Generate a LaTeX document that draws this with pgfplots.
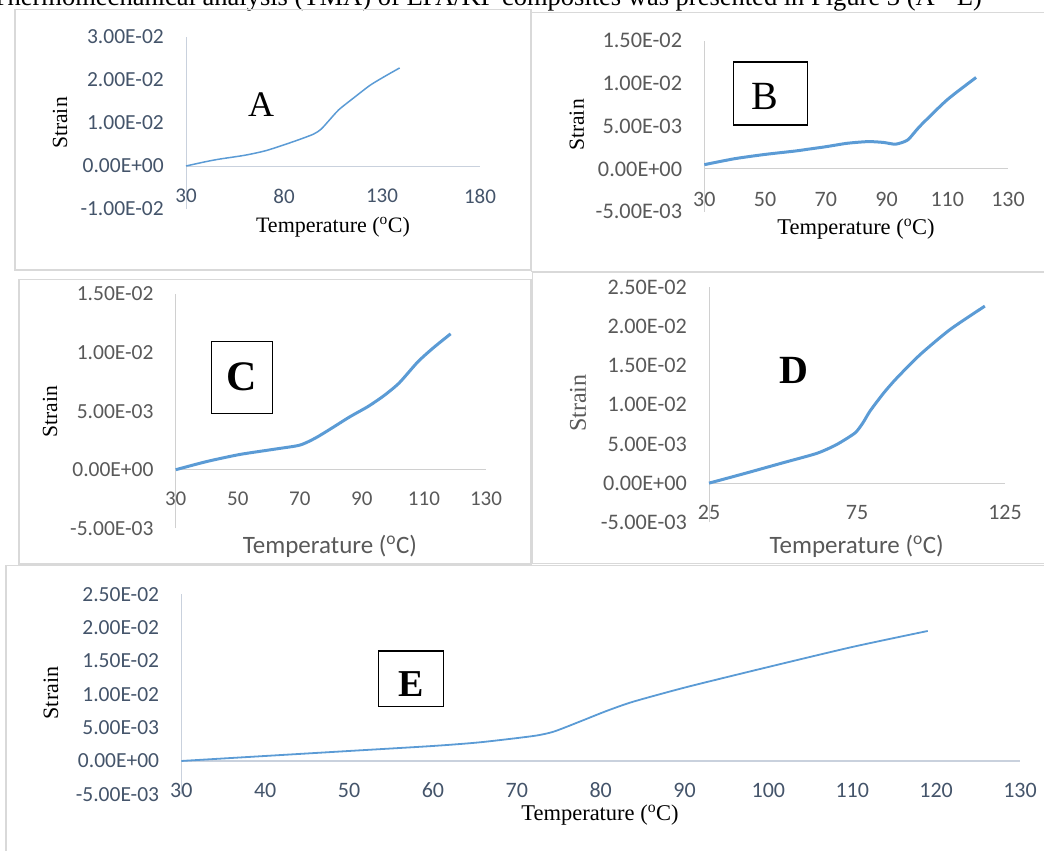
\documentclass[border=0pt]{standalone}
\usepackage{pgfplots}
\pgfplotsset{compat=1.18}
\usepackage{fontspec}
\setmainfont{Liberation Serif}
\newfontfamily\calibri{Carlito}
\definecolor{xblue}{HTML}{5B9BD5}
\definecolor{slate}{HTML}{44546A}
\definecolor{tgray}{HTML}{595959}
\definecolor{framec}{HTML}{D9D9D9}
\definecolor{alineA}{HTML}{C9D1DD}
\definecolor{alineB}{HTML}{D0D0D0}
\pgfplotsset{
  excel/.style={
    scale only axis, anchor=south west,
    axis x line=middle, axis y line=left,
    axis line style={-},
    hide obscured x ticks=false, hide obscured y ticks=false,
    major tick length=0pt, tick style={draw=none},
    clip=false, scaled y ticks=false, scaled x ticks=false,
    xticklabel style={anchor=center, inner sep=0pt, font=\fontsize{21}{21}\calibri},
    yticklabel style={anchor=east, inner sep=0pt, xshift=-22pt, font=\fontsize{21.5}{21.5}\calibri},
  }
}
\begin{document}
\begin{tikzpicture}
\useasboundingbox (0pt,0pt) rectangle (1044pt,-851pt);
\clip (0pt,0pt) rectangle (1044pt,-851pt);
% text line at top, cut off by the page edge as in the reference
\node[anchor=base east, inner sep=0pt, font=\fontsize{26.5}{26.5}\selectfont] at (982pt,-5.5pt) {Thermomechanical analysis (TMA) of EPA/KP composites was presented in Figure 3 (A - E)};
% frames
\draw[framec, line width=1.5pt] (15pt,-9.3pt) rectangle (531pt,-270pt);
\draw[framec, line width=1.5pt] (531.7pt,-12.7pt) rectangle (1060pt,-271.7pt);
\draw[framec, line width=1.5pt] (19pt,-279.3pt) rectangle (531pt,-564pt);
\draw[framec, line width=1.5pt] (532.3pt,-272.3pt) rectangle (1060pt,-563.3pt);
\draw[framec, line width=1.5pt] (6pt,-565.5pt) rectangle (1060pt,-870pt);

% ---------------- A ----------------
\begin{axis}[excel, at={(186pt,-209pt)}, width=294pt, height=172pt,
  xmin=30, xmax=180, ymin=-0.01, ymax=0.03,
  xtick={30,80,130,180}, xticklabels={30,80,130,180},
  ytick={-0.01,0,0.01,0.02,0.03},
  yticklabels={-1.00E-02,0.00E+00,1.00E-02,2.00E-02,3.00E-02},
  axis line style={draw=alineA, line width=1pt},
  xticklabel style={yshift=-30pt, text=slate}, yticklabel style={text=slate}]
\addplot[xblue, line width=1.5pt, smooth, tension=0.4] coordinates {
(30,0) (40,0.0010) (47,0.0016) (60,0.0025) (71,0.0036) (85,0.0057) (95,0.0074)
(99,0.0086) (103,0.0106) (108,0.0131) (116,0.0160) (124,0.0188) (132,0.0210) (139,0.0228)};
\end{axis}
\node[font=\fontsize{22}{22}\selectfont] at (333pt,-227pt) {Temperature (\textsuperscript{o}C)};
\node[rotate=90, font=\fontsize{21.6}{21.6}\selectfont] at (60pt,-123pt) {Strain};
\node[font=\fontsize{36}{36}\selectfont] at (261pt,-105pt) {A};

% ---------------- B ----------------
\begin{axis}[excel, at={(704.3pt,-211.7pt)}, width=303.7pt, height=171pt,
  xmin=30, xmax=130, ymin=-0.005, ymax=0.015,
  xtick={30,50,70,90,110,130}, xticklabels={30,50,70,90,110,130},
  ytick={-0.005,0,0.005,0.01,0.015},
  yticklabels={-5.00E-03,0.00E+00,5.00E-03,1.00E-02,1.50E-02},
  axis line style={draw=alineB, line width=1pt},
  xticklabel style={yshift=-30pt, text=tgray, font=\fontsize{22}{22}\calibri},
  yticklabel style={text=tgray, font=\fontsize{22.3}{22.3}\calibri}]
\addplot[xblue, line width=3pt, smooth, tension=0.4] coordinates {
(30,0.0005) (40,0.0012) (50,0.0017) (60,0.0021) (64,0.0023) (70,0.0026) (77,0.0030)
(84,0.0032) (89,0.0031) (93,0.0029) (97,0.0034) (101,0.0050) (110,0.0081) (119.5,0.0107)};
\end{axis}
\node[font=\fontsize{22.5}{22.5}\selectfont] at (856pt,-229pt) {Temperature (\textsuperscript{o}C)};
\node[rotate=90, font=\fontsize{21.6}{21.6}\selectfont] at (576.7pt,-125pt) {Strain};
\draw[black, line width=1.2pt] (733.3pt,-62pt) rectangle (807.3pt,-125pt);
\node[font=\fontsize{40}{40}\selectfont] at (765pt,-96.7pt) {B};

% ---------------- C ----------------
\begin{axis}[excel, at={(175.7pt,-528.3pt)}, width=310.3pt, height=234.3pt,
  xmin=30, xmax=130, ymin=-0.005, ymax=0.015,
  xtick={30,50,70,90,110,130}, xticklabels={30,50,70,90,110,130},
  ytick={-0.005,0,0.005,0.01,0.015},
  yticklabels={-5.00E-03,0.00E+00,5.00E-03,1.00E-02,1.50E-02},
  axis line style={draw=alineB, line width=1pt},
  xticklabel style={yshift=-29pt, text=tgray},
  yticklabel style={text=tgray}]
\addplot[xblue, line width=3pt, smooth, tension=0.4] coordinates {
(30,0) (40,0.0007) (50.6,0.0013) (62,0.00176) (70,0.0021) (75,0.0027) (80,0.0035)
(86,0.0045) (92,0.0054) (97,0.0063) (102,0.0074) (108,0.0092) (113,0.0104) (118.6,0.0116)};
\end{axis}
\node[text=tgray, font=\fontsize{25}{25}\calibri] at (330pt,-546.7pt) {Temperature (\textsuperscript{o}C)};
\node[rotate=90, font=\fontsize{21.6}{21.6}\selectfont] at (50pt,-411.7pt) {Strain};
\draw[black, line width=1.2pt] (211.7pt,-341.7pt) rectangle (272.3pt,-413.3pt);
\node[font=\fontsize{42}{42}\selectfont\bfseries] at (242pt,-376.5pt) {C};

% ---------------- D ----------------
\begin{axis}[excel, at={(709pt,-522.3pt)}, width=296pt, height=235pt,
  xmin=25, xmax=125, ymin=-0.005, ymax=0.025,
  xtick={25,75,125}, xticklabels={25,75,125},
  ytick={-0.005,0,0.005,0.01,0.015,0.02,0.025},
  yticklabels={-5.00E-03,0.00E+00,5.00E-03,1.00E-02,1.50E-02,2.00E-02,2.50E-02},
  axis line style={draw=alineB, line width=1pt},
  xticklabel style={yshift=-29pt, text=tgray, font=\fontsize{22}{22}\calibri},
  yticklabel style={text=tgray, font=\fontsize{22.2}{22.2}\calibri}]
\addplot[xblue, line width=3pt, smooth, tension=0.4] coordinates {
(25,0) (37.7,0.0013) (50,0.0026) (61.4,0.0038) (68,0.0049) (74.3,0.0064) (77,0.0077)
(79.4,0.0092) (84,0.0115) (88.4,0.0134) (96.3,0.0164) (106.4,0.0196) (118.2,0.0226)};
\end{axis}
\node[text=tgray, font=\fontsize{25}{25}\calibri] at (856.7pt,-546.7pt) {Temperature (\textsuperscript{o}C)};
\node[rotate=90, text=tgray, font=\fontsize{24}{24}\selectfont] at (578pt,-403pt) {Strain};
\node[font=\fontsize{40}{40}\selectfont\bfseries] at (794.3pt,-370pt) {D};

% ---------------- E ----------------
\begin{axis}[excel, at={(181.3pt,-794.3pt)}, width=838.7pt, height=200pt,
  xmin=30, xmax=130, ymin=-0.005, ymax=0.025,
  xtick={30,40,50,60,70,80,90,100,110,120,130},
  xticklabels={30,40,50,60,70,80,90,100,110,120,130},
  ytick={-0.005,0,0.005,0.01,0.015,0.02,0.025},
  yticklabels={-5.00E-03,0.00E+00,5.00E-03,1.00E-02,1.50E-02,2.00E-02,2.50E-02},
  axis line style={draw=alineA, line width=1.4pt},
  xticklabel style={yshift=-29pt, text=slate, font=\fontsize{22}{22}\calibri},
  yticklabel style={text=slate, font=\fontsize{21.5}{21.5}\calibri}]
\addplot[xblue, line width=1.8pt, smooth, tension=0.4] coordinates {
(30,0) (40,0.00075) (50,0.0015) (60,0.00225) (65.6,0.0028) (72,0.00375) (74.4,0.0044)
(77.5,0.0059) (80.7,0.0075) (83.9,0.0089) (90.3,0.0111) (100,0.0141) (110,0.0171) (119,0.0195)};
\end{axis}
\node[font=\fontsize{22.5}{22.5}\selectfont] at (600pt,-815pt) {Temperature (\textsuperscript{o}C)};
\node[rotate=90, font=\fontsize{22}{22}\selectfont] at (51pt,-693pt) {Strain};
\draw[black, line width=1.2pt] (378.7pt,-651pt) rectangle (443.3pt,-706.7pt);
\node[font=\fontsize{38}{38}\selectfont\bfseries] at (410.7pt,-684.5pt) {E};
\end{tikzpicture}
\end{document}
